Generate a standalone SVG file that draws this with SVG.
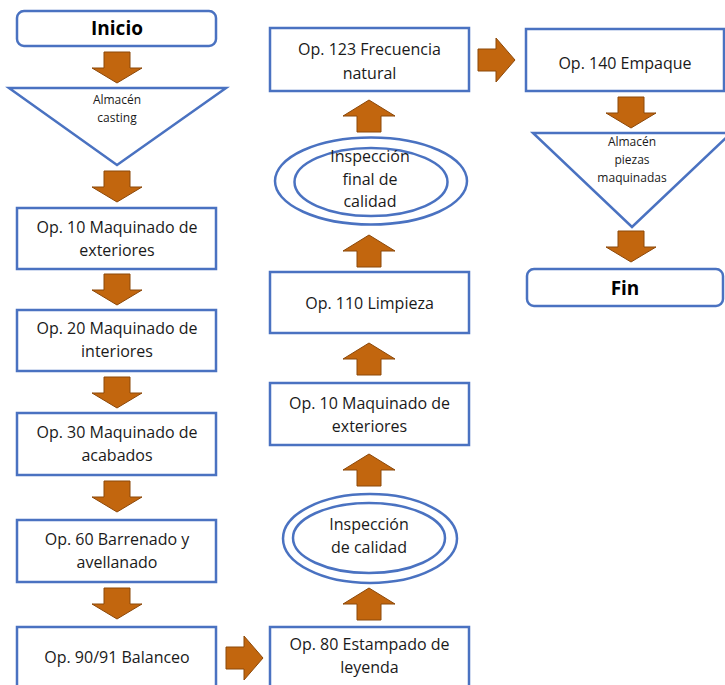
<svg xmlns="http://www.w3.org/2000/svg" xmlns:xlink="http://www.w3.org/1999/xlink" width="725" height="685" viewBox="0 0 725 685">
<style>
.box{fill:#ffffff;stroke:#4a72c1;stroke-width:2.5}
.ell{fill:none;stroke:#4a72c1;stroke-width:2.5}
.arr{fill:#c2660e;stroke:#8c4809;stroke-width:1}
.t{font-family:"Open Sans","Liberation Sans",sans-serif;font-size:16px;fill:#1a1a1a;text-anchor:middle}
.s{font-family:"Open Sans","Liberation Sans",sans-serif;font-size:12px;fill:#1a1a1a;text-anchor:middle}
.b{font-family:"Open Sans","Liberation Sans",sans-serif;font-size:19px;font-weight:bold;fill:#000;text-anchor:middle}
</style>
<defs>
<path id="ad" d="M-13,0 H13 V16 H25 L0,31 L-25,16 H-13 Z"/>
<path id="au" d="M-12,32 H12 V16 H26 L0,0 L-26,16 H-12 Z"/>
<path id="ar" d="M0,-11 H18 V-22 L37,0 L18,22 V11 H0 Z"/>
</defs>
<rect width="725" height="685" fill="#ffffff"/>
<g id="connectors">
<use href="#ad" class="arr" x="117" y="52"/>
<use href="#ad" class="arr" x="117" y="171"/>
<use href="#ad" class="arr" x="117" y="274"/>
<use href="#ad" class="arr" x="117" y="377"/>
<use href="#ad" class="arr" x="117" y="481"/>
<use href="#ad" class="arr" x="117" y="588"/>
<use href="#ar" class="arr" x="226" y="658"/>
<use href="#au" class="arr" x="369" y="588"/>
<use href="#au" class="arr" x="369" y="454"/>
<use href="#au" class="arr" x="369" y="343"/>
<use href="#au" class="arr" x="369" y="235"/>
<use href="#au" class="arr" x="369" y="100"/>
<use href="#ar" class="arr" x="478" y="60"/>
<use href="#ad" class="arr" x="631" y="97"/>
<use href="#ad" class="arr" x="631" y="231"/>
</g>
<g id="inicio"><rect class="box" x="17" y="11" width="199" height="35" rx="7"/><text class="b" x="117" y="35">Inicio</text></g>
<g id="almacen-casting"><polygon class="box" points="9,88 226,88 117,165"/><text class="s" x="117" y="104">Almacén</text><text class="s" x="117" y="122">casting</text></g>
<g id="op10"><rect class="box" x="17" y="208" width="199" height="61"/><text class="t" x="117" y="233">Op. 10 Maquinado de</text><text class="t" x="117" y="256">exteriores</text></g>
<g id="op20"><rect class="box" x="17" y="310" width="199" height="61"/><text class="t" x="117" y="334">Op. 20 Maquinado de</text><text class="t" x="117" y="357">interiores</text></g>
<g id="op30"><rect class="box" x="17" y="413" width="199" height="62"/><text class="t" x="117" y="438">Op. 30 Maquinado de</text><text class="t" x="117" y="461">acabados</text></g>
<g id="op60"><rect class="box" x="17" y="520" width="199" height="62"/><text class="t" x="117" y="545">Op. 60 Barrenado y</text><text class="t" x="117" y="568">avellanado</text></g>
<g id="op90"><rect class="box" x="17" y="627" width="199" height="62"/><text class="t" x="117" y="663">Op. 90/91 Balanceo</text></g>
<g id="op80"><rect class="box" x="270" y="627" width="199" height="62"/><text class="t" x="369.5" y="650">Op. 80 Estampado de</text><text class="t" x="369.5" y="673">leyenda</text></g>
<g id="inspeccion"><ellipse class="ell" cx="370" cy="538.5" rx="87" ry="44.5"/><ellipse class="ell" cx="369" cy="538" rx="76" ry="35"/><text class="t" x="369" y="530">Inspección</text><text class="t" x="369" y="553">de calidad</text></g>
<g id="op10b"><rect class="box" x="270" y="383" width="199" height="62"/><text class="t" x="369.5" y="409">Op. 10 Maquinado de</text><text class="t" x="369.5" y="432">exteriores</text></g>
<g id="op110"><rect class="box" x="270" y="272" width="199" height="61"/><text class="t" x="369.5" y="309">Op. 110 Limpieza</text></g>
<g id="inspeccion-final"><ellipse class="ell" cx="371" cy="181" rx="96" ry="43.5"/><ellipse class="ell" cx="371" cy="182" rx="76.5" ry="34"/><text class="t" x="370" y="162">Inspección</text><text class="t" x="370" y="185">final de</text><text class="t" x="370" y="207">calidad</text></g>
<g id="op123"><rect class="box" x="270" y="28" width="199" height="63"/><text class="t" x="369.5" y="55">Op. 123 Frecuencia</text><text class="t" x="369.5" y="79">natural</text></g>
<g id="op140"><rect class="box" x="526" y="29" width="198" height="62"/><text class="t" x="625" y="69">Op. 140 Empaque</text></g>
<g id="almacen-piezas"><polygon class="box" points="533,133 731,133 632,227"/><text class="s" x="632" y="146">Almacén</text><text class="s" x="632" y="164">piezas</text><text class="s" x="632" y="182">maquinadas</text></g>
<g id="fin"><rect class="box" x="527" y="269" width="196" height="37" rx="7"/><text class="b" x="625" y="295">Fin</text></g>
</svg>
